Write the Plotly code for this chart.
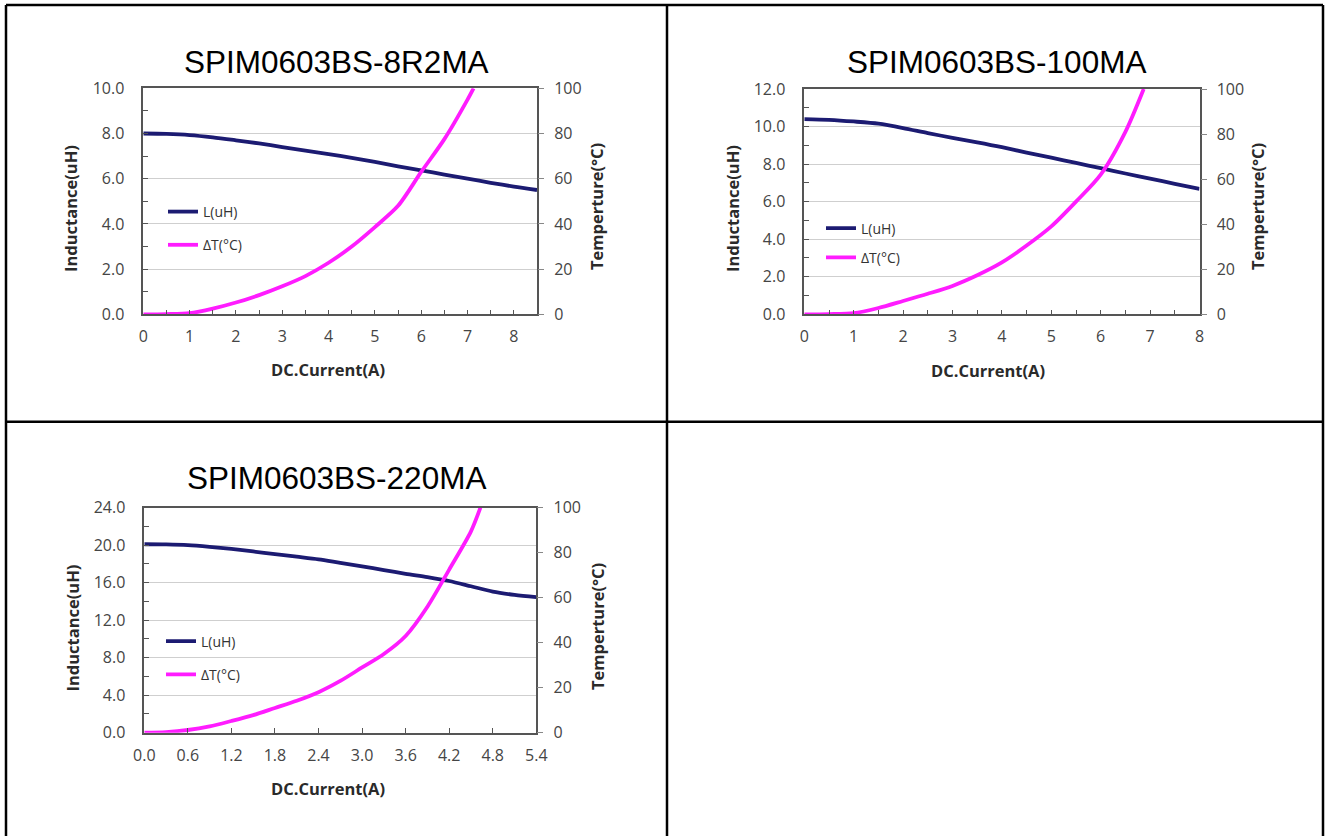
import plotly.graph_objects as go

W, H = 1325, 836

# ---------------- data ----------------
titles = ["SPIM0603BS-8R2MA", "SPIM0603BS-100MA", "SPIM0603BS-220MA"]
legend_names = ["L(uH)", "ΔT(°C)"]
x_title = "DC.Current(A)"
yl_title = "Inductance(uH)"
yr_title = "Temperture(°C)"

# chart 1 : SPIM0603BS-8R2MA
c1_x = [0, 0.5, 1, 1.5, 2, 2.5, 3, 3.5, 4, 4.5, 5, 5.5, 6, 6.5, 7, 7.5, 8, 8.5]
c1_L = [8.00, 7.98, 7.93, 7.83, 7.70, 7.56, 7.40, 7.24, 7.09, 6.92, 6.74, 6.55, 6.37, 6.18, 6.00, 5.82, 5.65, 5.50]
c1_tx = [0, 0.5, 1, 1.5, 2, 2.5, 3, 3.5, 4, 4.5, 5, 5.5, 6, 6.5, 7, 7.13]
c1_T = [0, 0.1, 0.5, 2.5, 5.2, 8.5, 12.4, 16.9, 22.8, 30.0, 38.6, 48.0, 63.0, 77.5, 95.0, 100]

# chart 2 : SPIM0603BS-100MA
c2_x = [0, 0.5, 1, 1.5, 2, 2.5, 3, 3.5, 4, 4.5, 5, 5.5, 6, 6.5, 7, 7.5, 8]
c2_L = [10.40, 10.36, 10.27, 10.15, 9.92, 9.65, 9.40, 9.16, 8.90, 8.61, 8.34, 8.06, 7.78, 7.50, 7.23, 6.95, 6.68]
c2_tx = [0, 0.5, 1, 1.5, 2, 2.5, 3, 3.5, 4, 4.5, 5, 5.5, 6, 6.5, 6.87]
c2_T = [0, 0.1, 0.5, 2.8, 5.9, 9.1, 12.6, 17.3, 23.0, 30.5, 39.0, 50.0, 62.0, 81.0, 100]

# chart 3 : SPIM0603BS-220MA
c3_x = [0, 0.3, 0.6, 0.9, 1.2, 1.5, 1.8, 2.1, 2.4, 2.7, 3.0, 3.3, 3.6, 3.9, 4.2, 4.5, 4.8, 5.1, 5.4]
c3_L = [20.10, 20.08, 20.00, 19.82, 19.60, 19.33, 19.05, 18.78, 18.50, 18.12, 17.75, 17.35, 16.95, 16.60, 16.18, 15.62, 15.05, 14.70, 14.45]
c3_tx = [0, 0.3, 0.6, 0.9, 1.2, 1.5, 1.8, 2.1, 2.4, 2.7, 3.0, 3.3, 3.6, 3.9, 4.2, 4.5, 4.63]
c3_T = [0, 0.3, 1.2, 2.8, 5.2, 7.8, 11.0, 14.2, 18.0, 23.0, 29.0, 35.0, 43.0, 56.0, 72.5, 89.5, 100]

# axis ranges / ticks
x_max = [8.5, 8, 5.4]
x_dtick = [1, 1, 0.6]
x_minor = [0.5, 0.5, None]
x_fmt = ["d", "d", ".1f"]
yl_max = [10, 12, 24]
yl_dtick = [2, 2, 4]
yl_minor = [1, 1, 2]
yr_max = 100
yr_dtick = 20

# ---------------- layout (pixels) ----------------
plots_px = [(143.3, 537.0, 88.3, 314.3), (804.3, 1199.5, 89.0, 314.3), (144.3, 536.3, 507.7, 732.7)]
title_px = [(336.5, 62), (996, 62), (336.5, 478)]
ylt_px = [(70, 209), (732, 209), (71.5, 628)]
yrt_px = [(597, 207), (1258, 207), (597, 627)]
xt_px = [(328, 369), (988, 371), (328, 788)]
leg_px = [(163, 196, 12), (821, 212.5, 8), (161, 625.5, 12)]

NAVY = "#1c1b72"
MAG = "#ff1cff"
AX = "#555555"
GRID = "#cfcfcf"
TICKF = dict(family="Open Sans", size=16, color="#454545")

def fx(p):
    return p / W

def fy(p):
    return 1 - p / H

fig = go.Figure()
data = [(c1_x, c1_L, c1_tx, c1_T), (c2_x, c2_L, c2_tx, c2_T), (c3_x, c3_L, c3_tx, c3_T)]
layout = dict(
    width=W, height=H, margin=dict(l=0, r=0, t=0, b=0, pad=0, autoexpand=False),
    paper_bgcolor="white", plot_bgcolor="white", showlegend=True,
)
annotations = []
for i in range(3):
    n = i + 1
    xs = "" if n == 1 else str(n)
    xa = "x" + xs
    ya = "y" + xs
    yr = "y" + str(n + 3)
    leg = "legend" + xs
    x, L, tx, T = data[i]
    fig.add_trace(go.Scatter(x=x, y=L, mode="lines", name=legend_names[0],
                             line=dict(color=NAVY, width=3.8, shape="spline", smoothing=0.8),
                             xaxis=xa, yaxis=ya, legend=leg, legendgroup="L%d" % n))
    fig.add_trace(go.Scatter(x=tx, y=T, mode="lines", name=legend_names[1],
                             line=dict(color=MAG, width=3.8, shape="spline", smoothing=0.8),
                             xaxis=xa, yaxis=yr, legend=leg, legendgroup="T%d" % n))
    x0, x1, y0, y1 = plots_px[i]
    xaxis = dict(domain=[fx(x0), fx(x1)], range=[0, x_max[i]], anchor=ya,
                 showline=True, mirror=True, linecolor=AX, linewidth=1.5,
                 showgrid=False, zeroline=False, ticks="inside", ticklen=5, tickcolor=AX,
                 dtick=x_dtick[i], tick0=0, tickformat=x_fmt[i], tickfont=TICKF,
                 ticklabelstandoff=7, automargin=False)
    if x_minor[i]:
        xaxis["minor"] = dict(dtick=x_minor[i], ticks="inside", ticklen=5, tickcolor=AX, showgrid=False)
    layout["xaxis" + xs] = xaxis
    layout["yaxis" + xs] = dict(domain=[fy(y1), fy(y0)], range=[0, yl_max[i]], anchor=xa,
                                showline=True, mirror=True, linecolor=AX, linewidth=1.5,
                                showgrid=True, gridcolor=GRID, gridwidth=1, zeroline=False,
                                ticks="inside", ticklen=5, tickcolor=AX, dtick=yl_dtick[i],
                                tickformat=".1f", tickfont=TICKF, ticklabelstandoff=14,
                                automargin=False,
                                minor=dict(dtick=yl_minor[i], ticks="inside", ticklen=5,
                                           tickcolor=AX, showgrid=False))
    layout["yaxis" + str(n + 3)] = dict(overlaying=ya, side="right", anchor=xa,
                                        range=[0, yr_max], dtick=yr_dtick, showgrid=False,
                                        zeroline=False, showline=False, ticks="outside",
                                        ticklen=6, tickcolor="#888888", tickfont=TICKF,
                                        ticklabelstandoff=7, automargin=False)
    lx, ly, gap = leg_px[i]
    layout[leg] = dict(x=fx(lx), y=fy(ly), xanchor="left", yanchor="top",
                       xref="paper", yref="paper", bgcolor="rgba(0,0,0,0)",
                       font=dict(family="Open Sans", size=14, color="#333333"),
                       tracegroupgap=gap, itemwidth=30)
    tx_, ty_ = title_px[i]
    annotations.append(dict(text=titles[i], x=fx(tx_), y=fy(ty_), xref="paper", yref="paper",
                            showarrow=False, xanchor="center", yanchor="middle",
                            font=dict(family="Liberation Sans", size=31.5, color="#000000")))
    for (px_, py_), txt, ang in [(ylt_px[i], yl_title, -90), (yrt_px[i], yr_title, -90), (xt_px[i], x_title, 0)]:
        annotations.append(dict(text=txt, x=fx(px_), y=fy(py_), xref="paper", yref="paper",
                                showarrow=False, xanchor="center", yanchor="middle", textangle=ang,
                                font=dict(family="Open Sans", size=16.5, color="#2a2a2a", weight="bold")))

layout["annotations"] = annotations

# table grid lines
BK = dict(color="black", width=2.5)
shapes = []
for (a, b, c, d) in [(6, 5, 1323, 5), (6, 421.7, 1323, 421.7)]:
    shapes.append(dict(type="line", xref="paper", yref="paper", x0=fx(a), y0=fy(b), x1=fx(c), y1=fy(d), line=BK))
for xv in [6, 667, 1323]:
    shapes.append(dict(type="line", xref="paper", yref="paper", x0=fx(xv), y0=fy(5), x1=fx(xv), y1=fy(H), line=BK))
layout["shapes"] = shapes

fig.update_layout(**layout)

page_js = ("document.documentElement.style.margin='0';document.body.style.margin='0';"
           "document.body.style.padding='0';document.documentElement.style.overflow='hidden';"
           "document.body.style.overflow='hidden';")
fig.write_html("out.html", config={"displayModeBar": False}, post_script=page_js)
